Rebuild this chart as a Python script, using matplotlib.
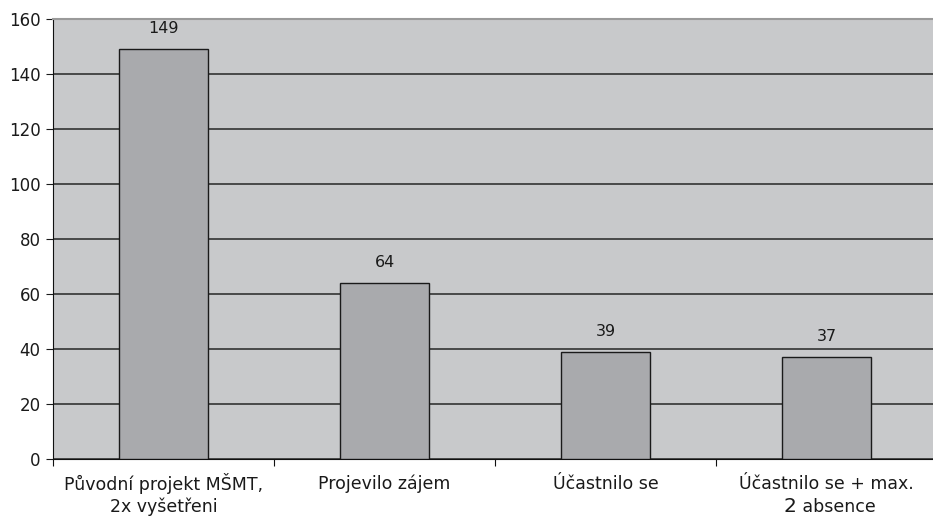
import matplotlib
matplotlib.use("Agg")
import matplotlib.pyplot as plt
from matplotlib.ticker import FixedLocator

plt.rcParams['font.family'] = ['DejaVu Sans']

categories = ["Původní projekt MŠMT,\n2x vyšetřeni", "Projevilo zájem",
              "Účastnilo se", "Účastnilo se + max.\n2 absence"]
values = [149, 64, 39, 37]
y_ticks = [0, 20, 40, 60, 80, 100, 120, 140, 160]

PX = 72 / 100  # points per pixel at 100 dpi
TXT = "#1a1a1a"

fig = plt.figure(figsize=(9.33, 5.18), dpi=100)
ax = fig.add_axes([53 / 933, 1 - 459 / 518, 1 - 53 / 933, 440 / 518])
ax.set_facecolor("#c8c9cb")

x = list(range(len(categories)))
ax.bar(x, values, width=0.4, color="#a9aaad", edgecolor="#1a1a1a", linewidth=1.0, zorder=3)

for xi, v in zip(x, values):
    ax.annotate(str(v), (xi, v), xytext=(0, 13 * PX), textcoords="offset points",
                ha="center", va="bottom", fontsize=11.5, color=TXT)

ax.set_ylim(0, 160)
ax.set_xlim(-0.5, -0.5 + 880 / 221)
ax.yaxis.set_major_locator(FixedLocator(y_ticks))
ax.tick_params(axis="y", labelsize=12, length=5, direction="out", colors=TXT, pad=4)
ax.grid(axis="y", color="#262626", linewidth=1.1, zorder=1)

# category ticks sit between bars
ax.xaxis.set_major_locator(FixedLocator([-0.5, 0.5, 1.5, 2.5, 3.5]))
ax.set_xticklabels([])
ax.tick_params(axis="x", which="major", length=5, direction="out", color="#111111")

# category labels, one text per line, centred under each bar
FS = 12.5
line_offsets = [-25, -48]
for xi, label in zip(x, categories):
    lines = label.split("\n")
    for k, line in enumerate(lines):
        if xi == len(categories) - 1 and k == 1:
            num, rest = line.split(" ", 1)
            ax.annotate(num, (xi, 0), xycoords=("data", "axes fraction"),
                        xytext=(-30 * PX, line_offsets[k] * PX), textcoords="offset points",
                        ha="right", va="center", fontsize=14.5, color=TXT)
            ax.annotate(" " + rest, (xi, 0), xycoords=("data", "axes fraction"),
                        xytext=(-30 * PX, line_offsets[k] * PX), textcoords="offset points",
                        ha="left", va="center", fontsize=FS, color=TXT)
        else:
            ax.annotate(line, (xi, 0), xycoords=("data", "axes fraction"),
                        xytext=(0, line_offsets[k] * PX), textcoords="offset points",
                        ha="center", va="center", fontsize=FS, color=TXT)

ax.spines["right"].set_visible(False)
ax.spines["top"].set_color("#9a9a9a")
ax.spines["top"].set_linewidth(1.5)
ax.spines["left"].set_color("#111111")
ax.spines["bottom"].set_color("#111111")

fig.savefig("out.png", dpi=100)
